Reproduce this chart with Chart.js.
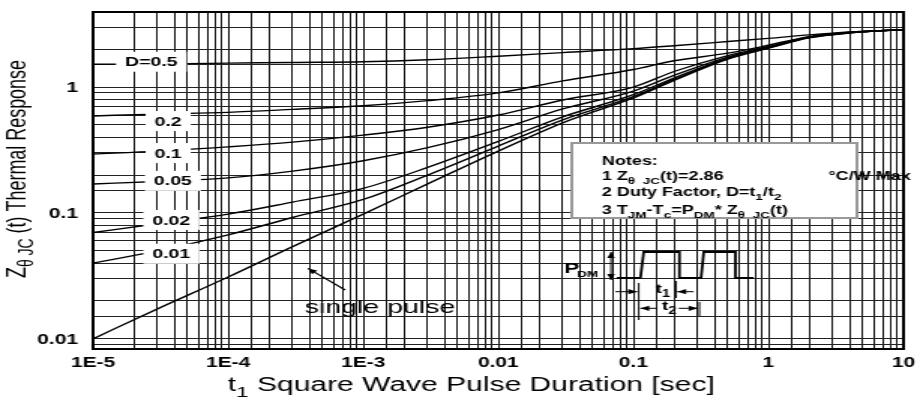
<!DOCTYPE html>
<html>
<head>
<meta charset="utf-8">
<script src="https://cdn.jsdelivr.net/npm/chart.js@4.4.0/dist/chart.umd.min.js"></script>
<style>
  html, body { margin: 0; padding: 0; background: #fff; }
</style>
</head>
<body>
<!-- the source picture is stretched 1.5x sideways, so the canvas is too -->
<canvas id="chart" width="613" height="404" style="display:block;width:920px;height:404px"></canvas>
<script>
const pulseTimes = [1e-5, 3e-5, 1e-4, 3e-4, 1e-3, 3e-3, 1e-2, 3e-2, 0.1, 0.2, 0.5, 1, 2, 4, 10]

// normalized thermal response Z(t) per duty factor
const singlePulse = [0.010, 0.0173, 0.031, 0.054, 0.098, 0.17, 0.31, 0.52, 0.82, 1.13, 1.67, 2.04, 2.46, 2.69, 2.86]
const duty001 = [0.040, 0.050, 0.067, 0.092, 0.128, 0.20, 0.34, 0.55, 0.84, 1.15, 1.68, 2.05, 2.47, 2.70, 2.86]
const duty002 = [0.070, 0.082, 0.098, 0.122, 0.157, 0.23, 0.37, 0.58, 0.87, 1.18, 1.70, 2.06, 2.48, 2.71, 2.86]
const duty005 = [0.170, 0.178, 0.190, 0.215, 0.260, 0.33, 0.46, 0.67, 0.93, 1.24, 1.73, 2.07, 2.49, 2.72, 2.86]
const duty01 = [0.294, 0.310, 0.335, 0.365, 0.415, 0.48, 0.60, 0.79, 1.00, 1.33, 1.78, 2.10, 2.50, 2.72, 2.86]
const duty02 = [0.59, 0.61, 0.63, 0.665, 0.71, 0.78, 0.90, 1.12, 1.38, 1.62, 1.86, 2.15, 2.52, 2.73, 2.86]
const duty05 = [1.52, 1.53, 1.55, 1.57, 1.59, 1.65, 1.76, 1.88, 2.02, 2.13, 2.30, 2.44, 2.60, 2.74, 2.86]

const xTickValues = [1e-5, 1e-4, 1e-3, 0.01, 0.1, 1, 10]
const xTickLabels = ['1E-5', '1E-4', '1E-3', '0.01', '0.1', '1', '10']
const yTickValues = [0.01, 0.1, 1]
const yTickLabels = ['0.01', '0.1', '1']

const curveLabels = ['D=0.5', '0.2', '0.1', '0.05', '0.02', '0.01']
const curveLabelT = [2.7e-5, 3.6e-5, 3.6e-5, 3.9e-5, 3.8e-5, 3.8e-5]
const curveLabelZ = [1.59, 0.537, 0.299, 0.18, 0.088, 0.0474]

const FONT = '"Liberation Sans", Arial, Helvetica, sans-serif'

function toPoints(values) {
  return pulseTimes.map((t, i) => ({ x: t, y: values[i] }))
}

function setFont(ctx, size, weight) {
  ctx.font = `${weight} ${size}px ${FONT}`
}

// runs: [text, isSubscript]
function runsWidth(ctx, runs, size, weight) {
  let w = 0
  for (const [text, sub] of runs) {
    setFont(ctx, sub ? Math.round(size * 0.75) : size, weight)
    w += ctx.measureText(text).width
  }
  return w
}

function drawRuns(ctx, runs, x, y, size, weight) {
  let cx = x
  for (const [text, sub] of runs) {
    setFont(ctx, sub ? Math.round(size * 0.75) : size, weight)
    ctx.fillText(text, cx, sub ? y + size * 0.3 : y)
    cx += ctx.measureText(text).width
  }
}

function arrowHead(ctx, x, y, dx, dy, len, half) {
  const n = Math.hypot(dx, dy)
  const ux = dx / n, uy = dy / n
  ctx.beginPath()
  ctx.moveTo(x, y)
  ctx.lineTo(x - ux * len - uy * half, y - uy * len + ux * half)
  ctx.lineTo(x - ux * len + uy * half, y - uy * len - ux * half)
  ctx.closePath()
  ctx.fill()
}

function arrow(ctx, x1, y1, x2, y2) {
  ctx.beginPath()
  ctx.moveTo(x1, y1)
  ctx.lineTo(x2, y2)
  ctx.stroke()
  arrowHead(ctx, x2, y2, x2 - x1, y2 - y1, 6, 2.6)
}

const decorations = {
  id: 'decorations',
  afterDatasetsDraw(chart) {
    const ctx = chart.ctx
    const xs = chart.scales.x
    const ys = chart.scales.y
    ctx.save()
    ctx.fillStyle = '#000'
    ctx.strokeStyle = '#000'

    // duty factor labels on white patches
    ctx.textAlign = 'center'
    ctx.textBaseline = 'middle'
    setFont(ctx, 13, 'bold')
    curveLabels.forEach((label, i) => {
      const px = xs.getPixelForValue(curveLabelT[i])
      const py = ys.getPixelForValue(curveLabelZ[i])
      const w = ctx.measureText(label).width
      ctx.fillStyle = '#fff'
      ctx.fillRect(px - w / 2 - 6, py - 10, w + 12, 20)
      ctx.fillStyle = '#000'
      ctx.fillText(label, px, py + 1)
    })

    // notes box
    ctx.fillStyle = '#fff'
    ctx.fillRect(381, 143, 190, 75)
    ctx.strokeStyle = '#999'
    ctx.lineWidth = 2
    ctx.strokeRect(381, 143, 190, 75)
    ctx.fillStyle = '#000'
    ctx.strokeStyle = '#000'
    ctx.textAlign = 'left'
    ctx.textBaseline = 'alphabetic'
    drawRuns(ctx, [['Notes:', false]], 401, 165, 12, 'bold')
    drawRuns(ctx, [['1 Z', false], ['\u03b8  JC', true], ['(t)=2.86', false]], 401, 180, 12, 'bold')
    drawRuns(ctx, [['\u00b0C/W Max', false]], 552, 180, 12, 'bold')
    drawRuns(ctx, [['2 Duty Factor, D=t', false], ['1', true], ['/t', false], ['2', true]], 401, 196, 12, 'bold')
    drawRuns(ctx, [['3 T', false], ['JM', true], ['-T', false], ['c', true], ['=P', false], ['DM', true],
      ['* Z', false], ['\u03b8  JC', true], ['(t)', false]], 401, 214, 12, 'bold')

    // pulse train sketch
    ctx.lineWidth = 1.8
    ctx.beginPath()
    ctx.moveTo(411, 278)
    ctx.lineTo(426.7, 278)
    ctx.lineTo(428.9, 252)
    ctx.lineTo(452.7, 252)
    ctx.lineTo(452.7, 278)
    ctx.lineTo(467.1, 278)
    ctx.lineTo(468.9, 252)
    ctx.lineTo(490, 252)
    ctx.lineTo(490, 278)
    ctx.lineTo(502, 278)
    ctx.stroke()

    ctx.lineWidth = 1
    arrow(ctx, 407.1, 266, 407.1, 252)
    arrow(ctx, 407.1, 266, 407.1, 280)
    drawRuns(ctx, [['P', false]], 376, 273, 15, 'bold')
    drawRuns(ctx, [['DM', false]], 384.5, 277, 9, 'bold')

    // t1 and t2 dimensions
    ctx.beginPath()
    ctx.moveTo(425.6, 283); ctx.lineTo(425.6, 320)
    ctx.moveTo(450.4, 281); ctx.lineTo(450.4, 298)
    ctx.moveTo(466, 302); ctx.lineTo(466, 316)
    ctx.stroke()
    arrow(ctx, 410, 291.7, 424.6, 291.7)
    arrow(ctx, 462.2, 291.7, 451.2, 291.7)
    arrow(ctx, 437.8, 308.3, 426.6, 308.3)
    arrow(ctx, 452.2, 308.3, 464.9, 308.3)
    drawRuns(ctx, [['t', false], ['1', true]], 436.7, 293, 13, 'bold')
    drawRuns(ctx, [['t', false], ['2', true]], 441, 310, 13, 'bold')

    // single pulse callout
    setFont(ctx, 19, 'normal')
    ctx.fillText('single pulse', 203, 313)
    ctx.lineWidth = 1.2
    arrow(ctx, 230, 290, 205.2, 268.4)

    ctx.restore()
  },
  afterDraw(chart) {
    const ctx = chart.ctx
    const area = chart.chartArea
    const xs = chart.scales.x
    const ys = chart.scales.y
    ctx.save()
    ctx.strokeStyle = '#000'
    ctx.lineWidth = 2
    ctx.strokeRect(area.left, area.top, area.right - area.left, area.bottom - area.top)

    ctx.fillStyle = '#000'
    setFont(ctx, 14, 'bold')
    ctx.textAlign = 'center'
    ctx.textBaseline = 'middle'
    xTickValues.forEach((v, i) => {
      ctx.fillText(xTickLabels[i], xs.getPixelForValue(v), 363)
    })
    ctx.textAlign = 'right'
    yTickValues.forEach((v, i) => {
      ctx.fillText(yTickLabels[i], area.left - 10, ys.getPixelForValue(v) + 1)
    })

    // x title
    ctx.textAlign = 'left'
    ctx.textBaseline = 'alphabetic'
    const xRuns = [['t', false], ['1', true], [' Square Wave Pulse Duration [sec]', false]]
    const xw = runsWidth(ctx, xRuns, 20, 'normal')
    drawRuns(ctx, xRuns, 314 - xw / 2, 391, 20, 'normal')

    // y title, rotated and squeezed to the original length
    const yRuns = [['Z', false], ['\u03b8', true], [' JC', true], [' (t) Thermal Response', false]]
    const yw = runsWidth(ctx, yRuns, 18, 'normal')
    const squeeze = 218 / yw
    ctx.translate(17, 169)
    ctx.rotate(-Math.PI / 2)
    ctx.scale(squeeze, 1)
    drawRuns(ctx, yRuns, -yw / 2, 0, 18, 'normal')
    ctx.restore()
  }
}

const lineStyle = {
  borderColor: '#000',
  borderWidth: 1.4,
  pointRadius: 0,
  fill: false,
  cubicInterpolationMode: 'monotone'
}

new Chart(document.getElementById('chart'), {
  type: 'line',
  data: {
    datasets: [
      { label: 'single pulse', data: toPoints(singlePulse), ...lineStyle },
      { label: 'D=0.01', data: toPoints(duty001), ...lineStyle },
      { label: 'D=0.02', data: toPoints(duty002), ...lineStyle },
      { label: 'D=0.05', data: toPoints(duty005), ...lineStyle },
      { label: 'D=0.1', data: toPoints(duty01), ...lineStyle },
      { label: 'D=0.2', data: toPoints(duty02), ...lineStyle },
      { label: 'D=0.5', data: toPoints(duty05), ...lineStyle }
    ]
  },
  options: {
    responsive: false,
    animation: false,
    events: [],
    layout: { padding: { left: 0, right: 11, top: 12, bottom: 0 } },
    plugins: {
      legend: { display: false },
      tooltip: { enabled: false }
    },
    scales: {
      x: {
        type: 'logarithmic',
        min: 1e-5,
        max: 10,
        ticks: { display: false },
        grid: { color: '#111', lineWidth: 1, drawTicks: false },
        border: { display: false },
        afterFit: (scale) => { scale.height = 55 }
      },
      y: {
        type: 'logarithmic',
        min: 0.0083,
        max: 3.95,
        ticks: { display: false },
        grid: { color: '#222', lineWidth: 1, drawTicks: false },
        border: { display: false },
        afterFit: (scale) => { scale.width = 62 }
      }
    }
  },
  plugins: [decorations]
})
</script>
</body>
</html>
